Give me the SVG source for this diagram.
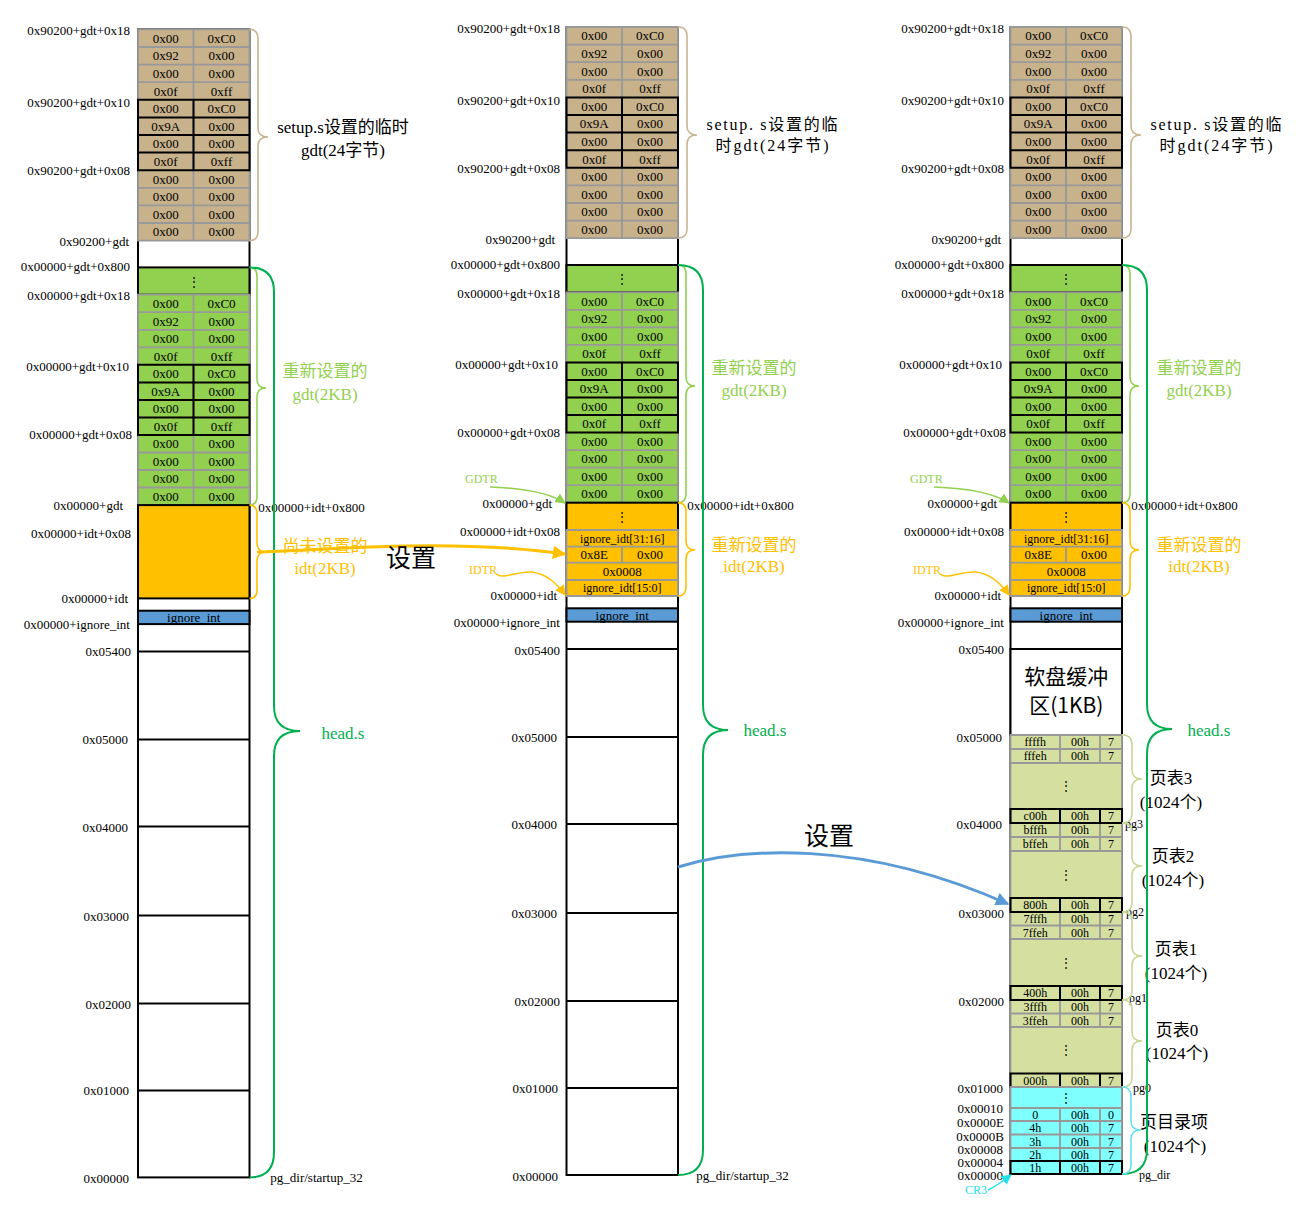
<svg xmlns="http://www.w3.org/2000/svg" width="1307" height="1221" viewBox="0 0 1307 1221">
<defs>
<style>
text{font-family:"Liberation Serif","Noto Sans CJK SC",serif;fill:#000}
.l{font-size:13px;text-anchor:end}
.c{font-size:13px;text-anchor:middle}
.s{font-size:12px;text-anchor:middle}
.sl{font-size:12px}
.b{font-size:17px;text-anchor:middle}
.b16{font-size:16px}
.ig{font-size:13px}
.cj{font-family:"Noto Sans CJK SC",sans-serif}
.col{fill:#fff;stroke:#000;stroke-width:2}
.tan{fill:#c8b28c}
.grn{fill:#92d050}
.org{fill:#ffc000}
.blu{fill:#5b9bd5;stroke:#000;stroke-width:2}
.ptf{fill:#d5e0a0}
.cyf{fill:#80ffff}
.grid{fill:none;stroke:#999;stroke-width:1.8}
.thk{fill:none;stroke:#000;stroke-width:2}
.brT{fill:none;stroke:#c9b48f;stroke-width:1.6}
.brG{fill:none;stroke:#92d050;stroke-width:1.6}
.brO{fill:none;stroke:#ffc000;stroke-width:1.6}
.brH{fill:none;stroke:#00b050;stroke-width:2}
.brP{fill:none;stroke:#c6d894;stroke-width:1.6}
.brC{fill:none;stroke:#66e0f0;stroke-width:1.6}
.tg{fill:#92d050}
.to{fill:#ffc000}
.th{fill:#00b050}
.tc{fill:#22e0e8}
</style>
<marker id="mO" viewBox="0 0 10 10" refX="9" refY="5" markerWidth="4.5" markerHeight="4.5" orient="auto"><path d="M0,0L10,5L0,10z" fill="#ffc000"/></marker>
<marker id="mB" viewBox="0 0 10 10" refX="9" refY="5" markerWidth="4.5" markerHeight="4.5" orient="auto"><path d="M0,0L10,5L0,10z" fill="#5b9bd5"/></marker>
<marker id="mG" viewBox="0 0 10 10" refX="9" refY="5" markerWidth="7" markerHeight="7" orient="auto"><path d="M0,0L10,5L0,10z" fill="#92d050"/></marker>
<marker id="mY" viewBox="0 0 10 10" refX="9" refY="5" markerWidth="7" markerHeight="7" orient="auto"><path d="M0,0L10,5L0,10z" fill="#ffc000"/></marker>
<marker id="mC" viewBox="0 0 10 10" refX="9" refY="5" markerWidth="7" markerHeight="7" orient="auto"><path d="M0,0L10,5L0,10z" fill="#22e0e8"/></marker>
</defs>
<rect width="1307" height="1221" fill="#fff"/>

<!-- ================= LEFT COLUMN ================= -->
<g id="colL">
<rect class="col" x="138" y="29.4" width="111.5" height="1148"/>
<g id="L-tempgdt">
<rect class="tan" x="138" y="29.4" width="111.5" height="211.2"/>
<path class="grid" d="M138,29.4H249.5V240.6H138Z M138,47H249.5 M138,64.6H249.5 M138,82.2H249.5 M138,187.8H249.5 M138,205.4H249.5 M138,223H249.5 M193.5,29.4V240.6"/>
<path class="thk" d="M138,99.8H249.5V170.2H138Z M138,117.4H249.5 M138,135H249.5 M138,152.6H249.5 M193.5,99.8V170.2"/>
<text class="c" y="42.7"><tspan x="165.75">0x00</tspan><tspan x="221.5">0xC0</tspan></text>
<text class="c" y="60.3"><tspan x="165.75">0x92</tspan><tspan x="221.5">0x00</tspan></text>
<text class="c" y="77.9"><tspan x="165.75">0x00</tspan><tspan x="221.5">0x00</tspan></text>
<text class="c" y="95.5"><tspan x="165.75">0x0f</tspan><tspan x="221.5">0xff</tspan></text>
<text class="c" y="113.1"><tspan x="165.75">0x00</tspan><tspan x="221.5">0xC0</tspan></text>
<text class="c" y="130.7"><tspan x="165.75">0x9A</tspan><tspan x="221.5">0x00</tspan></text>
<text class="c" y="148.3"><tspan x="165.75">0x00</tspan><tspan x="221.5">0x00</tspan></text>
<text class="c" y="165.9"><tspan x="165.75">0x0f</tspan><tspan x="221.5">0xff</tspan></text>
<text class="c" y="183.5"><tspan x="165.75">0x00</tspan><tspan x="221.5">0x00</tspan></text>
<text class="c" y="201.1"><tspan x="165.75">0x00</tspan><tspan x="221.5">0x00</tspan></text>
<text class="c" y="218.7"><tspan x="165.75">0x00</tspan><tspan x="221.5">0x00</tspan></text>
<text class="c" y="236.3"><tspan x="165.75">0x00</tspan><tspan x="221.5">0x00</tspan></text>
</g>
<g id="L-gdt">
<rect class="grn" x="138" y="267.4" width="111.5" height="27.3" stroke="#000" stroke-width="2"/>
<text class="s" x="193.75" y="285.5">⋮</text>
<rect class="grn" x="138" y="294.7" width="111.5" height="210.4"/>
<path class="grid" d="M138,294.7H249.5V505.1H138Z M138,312.2H249.5 M138,329.8H249.5 M138,347.3H249.5 M138,452.5H249.5 M138,470H249.5 M138,487.5H249.5 M193.5,294.7V505.1"/>
<path class="thk" d="M138,364.8H249.5V434.9H138Z M138,382.4H249.5 M138,399.9H249.5 M138,417.4H249.5 M193.5,364.8V434.9"/>
<text class="c" y="308"><tspan x="165.75">0x00</tspan><tspan x="221.5">0xC0</tspan></text>
<text class="c" y="325.5"><tspan x="165.75">0x92</tspan><tspan x="221.5">0x00</tspan></text>
<text class="c" y="343.1"><tspan x="165.75">0x00</tspan><tspan x="221.5">0x00</tspan></text>
<text class="c" y="360.6"><tspan x="165.75">0x0f</tspan><tspan x="221.5">0xff</tspan></text>
<text class="c" y="378.1"><tspan x="165.75">0x00</tspan><tspan x="221.5">0xC0</tspan></text>
<text class="c" y="395.7"><tspan x="165.75">0x9A</tspan><tspan x="221.5">0x00</tspan></text>
<text class="c" y="413.2"><tspan x="165.75">0x00</tspan><tspan x="221.5">0x00</tspan></text>
<text class="c" y="430.7"><tspan x="165.75">0x0f</tspan><tspan x="221.5">0xff</tspan></text>
<text class="c" y="448.2"><tspan x="165.75">0x00</tspan><tspan x="221.5">0x00</tspan></text>
<text class="c" y="465.8"><tspan x="165.75">0x00</tspan><tspan x="221.5">0x00</tspan></text>
<text class="c" y="483.3"><tspan x="165.75">0x00</tspan><tspan x="221.5">0x00</tspan></text>
<text class="c" y="500.8"><tspan x="165.75">0x00</tspan><tspan x="221.5">0x00</tspan></text>
</g>
<g id="L-idt"><rect class="org" x="138" y="505.1" width="111.5" height="93.3" stroke="#000" stroke-width="2"/></g>
<g id="L-ignore"><rect class="blu" x="138" y="610.7" width="111.5" height="13.4"/><text class="s ig" x="193.75" y="621.8">ignore_int</text></g>
<path class="thk" d="M138,651.4H249.5 M138,739.4H249.5 M138,826.4H249.5 M138,915.4H249.5 M138,1003.4H249.5 M138,1090.4H249.5"/>
</g>
<g id="labelsL">
<text class="l" x="130" y="34.5">0x90200+gdt+0x18</text>
<text class="l" x="130" y="106.5">0x90200+gdt+0x10</text>
<text class="l" x="130" y="174.5">0x90200+gdt+0x08</text>
<text class="l" x="129" y="245.5">0x90200+gdt</text>
<text class="l" x="130" y="270.5">0x00000+gdt+0x800</text>
<text class="l" x="130" y="299.5">0x00000+gdt+0x18</text>
<text class="l" x="129" y="370.5">0x00000+gdt+0x10</text>
<text class="l" x="132" y="438.5">0x00000+gdt+0x08</text>
<text class="l" x="123" y="509.5">0x00000+gdt</text>
<text class="l" x="131" y="537.5">0x00000+idt+0x08</text>
<text class="l" x="128" y="602.5">0x00000+idt</text>
<text class="l" x="130" y="628.5">0x00000+ignore_int</text>
<text class="l" x="131" y="655.5">0x05400</text>
<text class="l" x="128" y="743.5">0x05000</text>
<text class="l" x="128" y="831.5">0x04000</text>
<text class="l" x="129" y="920.5">0x03000</text>
<text class="l" x="131" y="1008.5">0x02000</text>
<text class="l" x="129" y="1094.5">0x01000</text>
<text class="l" x="129" y="1182.5">0x00000</text>
<text class="c" x="311.5" y="512">0x00000+idt+0x800</text>
<text class="c" x="316.5" y="1182">pg_dir/startup_32</text>
<text class="b" x="343" y="133">setup.s设置的临时</text>
<text class="b" x="343" y="156">gdt(24字节)</text>
<text class="b tg" x="325" y="377">重新设置的</text>
<text class="b tg" x="325" y="400">gdt(2KB)</text>
<text class="b to" x="325" y="552">尚未设置的</text>
<text class="b to" x="325" y="574">idt(2KB)</text>
<text class="b th" x="343" y="739">head.s</text>
</g>

<!-- ================= MIDDLE COLUMN ================= -->
<g id="colM">
<rect class="col" x="566.5" y="27" width="111.5" height="1148"/>
<g id="M-tempgdt">
<rect class="tan" x="566.5" y="27" width="111.5" height="211.2"/>
<path class="grid" d="M566.5,27H678V238.2H566.5Z M566.5,44.6H678 M566.5,62.2H678 M566.5,79.8H678 M566.5,185.4H678 M566.5,203H678 M566.5,220.6H678 M622,27V238.2"/>
<path class="thk" d="M566.5,97.4H678V167.8H566.5Z M566.5,115H678 M566.5,132.6H678 M566.5,150.2H678 M622,97.4V167.8"/>
<text class="c" y="40.3"><tspan x="594.25">0x00</tspan><tspan x="650">0xC0</tspan></text>
<text class="c" y="57.9"><tspan x="594.25">0x92</tspan><tspan x="650">0x00</tspan></text>
<text class="c" y="75.5"><tspan x="594.25">0x00</tspan><tspan x="650">0x00</tspan></text>
<text class="c" y="93.1"><tspan x="594.25">0x0f</tspan><tspan x="650">0xff</tspan></text>
<text class="c" y="110.7"><tspan x="594.25">0x00</tspan><tspan x="650">0xC0</tspan></text>
<text class="c" y="128.3"><tspan x="594.25">0x9A</tspan><tspan x="650">0x00</tspan></text>
<text class="c" y="145.9"><tspan x="594.25">0x00</tspan><tspan x="650">0x00</tspan></text>
<text class="c" y="163.5"><tspan x="594.25">0x0f</tspan><tspan x="650">0xff</tspan></text>
<text class="c" y="181.1"><tspan x="594.25">0x00</tspan><tspan x="650">0x00</tspan></text>
<text class="c" y="198.7"><tspan x="594.25">0x00</tspan><tspan x="650">0x00</tspan></text>
<text class="c" y="216.3"><tspan x="594.25">0x00</tspan><tspan x="650">0x00</tspan></text>
<text class="c" y="233.9"><tspan x="594.25">0x00</tspan><tspan x="650">0x00</tspan></text>
</g>
<g id="M-gdt">
<rect class="grn" x="566.5" y="265" width="111.5" height="27.3" stroke="#000" stroke-width="2"/>
<text class="s" x="622.25" y="283">⋮</text>
<rect class="grn" x="566.5" y="292.3" width="111.5" height="210.4"/>
<path class="grid" d="M566.5,292.3H678V502.7H566.5Z M566.5,309.8H678 M566.5,327.4H678 M566.5,344.9H678 M566.5,450.1H678 M566.5,467.6H678 M566.5,485.1H678 M622,292.3V502.7"/>
<path class="thk" d="M566.5,362.4H678V432.5H566.5Z M566.5,380H678 M566.5,397.5H678 M566.5,415H678 M622,362.4V432.5"/>
<text class="c" y="305.6"><tspan x="594.25">0x00</tspan><tspan x="650">0xC0</tspan></text>
<text class="c" y="323.1"><tspan x="594.25">0x92</tspan><tspan x="650">0x00</tspan></text>
<text class="c" y="340.7"><tspan x="594.25">0x00</tspan><tspan x="650">0x00</tspan></text>
<text class="c" y="358.2"><tspan x="594.25">0x0f</tspan><tspan x="650">0xff</tspan></text>
<text class="c" y="375.7"><tspan x="594.25">0x00</tspan><tspan x="650">0xC0</tspan></text>
<text class="c" y="393.3"><tspan x="594.25">0x9A</tspan><tspan x="650">0x00</tspan></text>
<text class="c" y="410.8"><tspan x="594.25">0x00</tspan><tspan x="650">0x00</tspan></text>
<text class="c" y="428.3"><tspan x="594.25">0x0f</tspan><tspan x="650">0xff</tspan></text>
<text class="c" y="445.8"><tspan x="594.25">0x00</tspan><tspan x="650">0x00</tspan></text>
<text class="c" y="463.4"><tspan x="594.25">0x00</tspan><tspan x="650">0x00</tspan></text>
<text class="c" y="480.9"><tspan x="594.25">0x00</tspan><tspan x="650">0x00</tspan></text>
<text class="c" y="498.4"><tspan x="594.25">0x00</tspan><tspan x="650">0x00</tspan></text>
</g>
<g id="M-idt">
<rect class="org" x="566.5" y="502.7" width="111.5" height="27.3" stroke="#000" stroke-width="2"/>
<text class="s" x="622.25" y="520.5">⋮</text>
<rect class="org" x="566.5" y="530" width="111.5" height="66"/>
<path class="grid" d="M566.5,530H678V596H566.5Z M566.5,546.7H678 M566.5,562.7H678 M566.5,580H678 M622,546.7V562.7"/>
<text class="s" x="622.25" y="542.5">ignore_idt[31:16]</text>
<text class="c" y="559"><tspan x="594.25">0x8E</tspan><tspan x="650">0x00</tspan></text>
<text class="c" x="622.25" y="575.5">0x0008</text>
<text class="s" x="622.25" y="592.2">ignore_idt[15:0]</text>
</g>
<g id="M-ignore"><rect class="blu" x="566.5" y="608.3" width="111.5" height="13.4"/><text class="s ig" x="622.25" y="619.5">ignore_int</text></g>
<path class="thk" d="M566.5,649H678 M566.5,737H678 M566.5,824H678 M566.5,913H678 M566.5,1001H678 M566.5,1088H678"/>
</g>
<g id="labelsM">
<text class="l" x="560" y="32.5">0x90200+gdt+0x18</text>
<text class="l" x="560" y="104.5">0x90200+gdt+0x10</text>
<text class="l" x="560" y="172.5">0x90200+gdt+0x08</text>
<text class="l" x="555" y="243.5">0x90200+gdt</text>
<text class="l" x="560" y="268.5">0x00000+gdt+0x800</text>
<text class="l" x="560" y="297.5">0x00000+gdt+0x18</text>
<text class="l" x="558" y="368.5">0x00000+gdt+0x10</text>
<text class="l" x="560" y="436.5">0x00000+gdt+0x08</text>
<text class="sl tg" x="465" y="482.5">GDTR</text>
<text class="l" x="552" y="507.5">0x00000+gdt</text>
<text class="l" x="560" y="535.5">0x00000+idt+0x08</text>
<text class="sl to" x="469" y="573.5">IDTR</text>
<text class="l" x="557" y="599.5">0x00000+idt</text>
<text class="l" x="560" y="626.5">0x00000+ignore_int</text>
<text class="l" x="560" y="654.5">0x05400</text>
<text class="l" x="557" y="741.5">0x05000</text>
<text class="l" x="557" y="828.5">0x04000</text>
<text class="l" x="557" y="917.5">0x03000</text>
<text class="l" x="560" y="1005.5">0x02000</text>
<text class="l" x="558" y="1092.5">0x01000</text>
<text class="l" x="558" y="1180.5">0x00000</text>
<text class="c" x="740.5" y="509.5">0x00000+idt+0x800</text>
<text class="c" x="742.5" y="1180">pg_dir/startup_32</text>
<text class="b b16" x="772" y="130" textLength="131" lengthAdjust="spacing">setup. s设置的临</text>
<text class="b b16" x="772" y="151" textLength="113" lengthAdjust="spacing">时gdt(24字节)</text>
<text class="b tg" x="754" y="374">重新设置的</text>
<text class="b tg" x="754" y="396">gdt(2KB)</text>
<text class="b to" x="754" y="551">重新设置的</text>
<text class="b to" x="754" y="572">idt(2KB)</text>
<text class="b th" x="765" y="736">head.s</text>
</g>

<!-- ================= RIGHT COLUMN ================= -->
<g id="colR">
<rect class="col" x="1010.5" y="27" width="111.5" height="1147"/>
<g id="R-tempgdt">
<rect class="tan" x="1010.5" y="27" width="111.5" height="211.2"/>
<path class="grid" d="M1010.5,27H1122V238.2H1010.5Z M1010.5,44.6H1122 M1010.5,62.2H1122 M1010.5,79.8H1122 M1010.5,185.4H1122 M1010.5,203H1122 M1010.5,220.6H1122 M1066,27V238.2"/>
<path class="thk" d="M1010.5,97.4H1122V167.8H1010.5Z M1010.5,115H1122 M1010.5,132.6H1122 M1010.5,150.2H1122 M1066,97.4V167.8"/>
<text class="c" y="40.3"><tspan x="1038.25">0x00</tspan><tspan x="1094">0xC0</tspan></text>
<text class="c" y="57.9"><tspan x="1038.25">0x92</tspan><tspan x="1094">0x00</tspan></text>
<text class="c" y="75.5"><tspan x="1038.25">0x00</tspan><tspan x="1094">0x00</tspan></text>
<text class="c" y="93.1"><tspan x="1038.25">0x0f</tspan><tspan x="1094">0xff</tspan></text>
<text class="c" y="110.7"><tspan x="1038.25">0x00</tspan><tspan x="1094">0xC0</tspan></text>
<text class="c" y="128.3"><tspan x="1038.25">0x9A</tspan><tspan x="1094">0x00</tspan></text>
<text class="c" y="145.9"><tspan x="1038.25">0x00</tspan><tspan x="1094">0x00</tspan></text>
<text class="c" y="163.5"><tspan x="1038.25">0x0f</tspan><tspan x="1094">0xff</tspan></text>
<text class="c" y="181.1"><tspan x="1038.25">0x00</tspan><tspan x="1094">0x00</tspan></text>
<text class="c" y="198.7"><tspan x="1038.25">0x00</tspan><tspan x="1094">0x00</tspan></text>
<text class="c" y="216.3"><tspan x="1038.25">0x00</tspan><tspan x="1094">0x00</tspan></text>
<text class="c" y="233.9"><tspan x="1038.25">0x00</tspan><tspan x="1094">0x00</tspan></text>
</g>
<g id="R-gdt">
<rect class="grn" x="1010.5" y="265" width="111.5" height="27.3" stroke="#000" stroke-width="2"/>
<text class="s" x="1066.25" y="283">⋮</text>
<rect class="grn" x="1010.5" y="292.3" width="111.5" height="210.4"/>
<path class="grid" d="M1010.5,292.3H1122V502.7H1010.5Z M1010.5,309.8H1122 M1010.5,327.4H1122 M1010.5,344.9H1122 M1010.5,450.1H1122 M1010.5,467.6H1122 M1010.5,485.1H1122 M1066,292.3V502.7"/>
<path class="thk" d="M1010.5,362.4H1122V432.5H1010.5Z M1010.5,380H1122 M1010.5,397.5H1122 M1010.5,415H1122 M1066,362.4V432.5"/>
<text class="c" y="305.6"><tspan x="1038.25">0x00</tspan><tspan x="1094">0xC0</tspan></text>
<text class="c" y="323.1"><tspan x="1038.25">0x92</tspan><tspan x="1094">0x00</tspan></text>
<text class="c" y="340.7"><tspan x="1038.25">0x00</tspan><tspan x="1094">0x00</tspan></text>
<text class="c" y="358.2"><tspan x="1038.25">0x0f</tspan><tspan x="1094">0xff</tspan></text>
<text class="c" y="375.7"><tspan x="1038.25">0x00</tspan><tspan x="1094">0xC0</tspan></text>
<text class="c" y="393.3"><tspan x="1038.25">0x9A</tspan><tspan x="1094">0x00</tspan></text>
<text class="c" y="410.8"><tspan x="1038.25">0x00</tspan><tspan x="1094">0x00</tspan></text>
<text class="c" y="428.3"><tspan x="1038.25">0x0f</tspan><tspan x="1094">0xff</tspan></text>
<text class="c" y="445.8"><tspan x="1038.25">0x00</tspan><tspan x="1094">0x00</tspan></text>
<text class="c" y="463.4"><tspan x="1038.25">0x00</tspan><tspan x="1094">0x00</tspan></text>
<text class="c" y="480.9"><tspan x="1038.25">0x00</tspan><tspan x="1094">0x00</tspan></text>
<text class="c" y="498.4"><tspan x="1038.25">0x00</tspan><tspan x="1094">0x00</tspan></text>
</g>
<g id="R-idt">
<rect class="org" x="1010.5" y="502.7" width="111.5" height="27.3" stroke="#000" stroke-width="2"/>
<text class="s" x="1066.25" y="520.5">⋮</text>
<rect class="org" x="1010.5" y="530" width="111.5" height="66"/>
<path class="grid" d="M1010.5,530H1122V596H1010.5Z M1010.5,546.7H1122 M1010.5,562.7H1122 M1010.5,580H1122 M1066,546.7V562.7"/>
<text class="s" x="1066.25" y="542.5">ignore_idt[31:16]</text>
<text class="c" y="559"><tspan x="1038.25">0x8E</tspan><tspan x="1094">0x00</tspan></text>
<text class="c" x="1066.25" y="575.5">0x0008</text>
<text class="s" x="1066.25" y="592.2">ignore_idt[15:0]</text>
</g>
<g id="R-ignore"><rect class="blu" x="1010.5" y="608.3" width="111.5" height="13.4"/><text class="s ig" x="1066.25" y="619.5">ignore_int</text></g>
<g id="R-floppy">
<rect class="col" x="1010.5" y="649" width="111.5" height="86"/>
<text class="cj" x="1066.25" y="684" font-size="21" text-anchor="middle">软盘缓冲</text>
<text class="cj" x="1066.25" y="713" font-size="21" text-anchor="middle">区(1KB)</text>
</g>
<g id="R-pagetables">
<rect class="ptf" x="1010.5" y="735" width="111.5" height="352"/>
<path class="grid" d="M1010.5,735H1122V1087H1010.5Z M1010.5,749H1122 M1010.5,763H1122 M1010.5,809H1122 M1010.5,837H1122 M1010.5,851H1122 M1010.5,925.5H1122 M1010.5,939H1122 M1010.5,1013.5H1122 M1010.5,1027H1122 M1060,735V763 M1100,735V763 M1060,823V851 M1100,823V851 M1060,912V939 M1100,912V939 M1060,1000V1027 M1100,1000V1027"/>
<path class="thk" d="M1010.5,809H1122V823H1010.5Z M1060,809V823 M1100,809V823 M1010.5,898H1122V912H1010.5Z M1060,898V912 M1100,898V912 M1010.5,986H1122V1000H1010.5Z M1060,986V1000 M1100,986V1000 M1010.5,1073.5H1122V1087H1010.5Z M1060,1073.5V1087 M1100,1073.5V1087"/>
<text class="s" y="746.3"><tspan x="1035.25">ffffh</tspan><tspan x="1080">00h</tspan><tspan x="1111">7</tspan></text>
<text class="s" y="760.3"><tspan x="1035.25">fffeh</tspan><tspan x="1080">00h</tspan><tspan x="1111">7</tspan></text>
<text class="s" x="1066.25" y="790">⋮</text>
<text class="s" y="820.3"><tspan x="1035.25">c00h</tspan><tspan x="1080">00h</tspan><tspan x="1111">7</tspan></text>
<text class="s" y="834.3"><tspan x="1035.25">bfffh</tspan><tspan x="1080">00h</tspan><tspan x="1111">7</tspan></text>
<text class="s" y="848.3"><tspan x="1035.25">bffeh</tspan><tspan x="1080">00h</tspan><tspan x="1111">7</tspan></text>
<text class="s" x="1066.25" y="878.5">⋮</text>
<text class="s" y="909.3"><tspan x="1035.25">800h</tspan><tspan x="1080">00h</tspan><tspan x="1111">7</tspan></text>
<text class="s" y="923"><tspan x="1035.25">7fffh</tspan><tspan x="1080">00h</tspan><tspan x="1111">7</tspan></text>
<text class="s" y="936.5"><tspan x="1035.25">7ffeh</tspan><tspan x="1080">00h</tspan><tspan x="1111">7</tspan></text>
<text class="s" x="1066.25" y="966.5">⋮</text>
<text class="s" y="997.3"><tspan x="1035.25">400h</tspan><tspan x="1080">00h</tspan><tspan x="1111">7</tspan></text>
<text class="s" y="1011"><tspan x="1035.25">3fffh</tspan><tspan x="1080">00h</tspan><tspan x="1111">7</tspan></text>
<text class="s" y="1024.5"><tspan x="1035.25">3ffeh</tspan><tspan x="1080">00h</tspan><tspan x="1111">7</tspan></text>
<text class="s" x="1066.25" y="1054.3">⋮</text>
<text class="s" y="1084.5"><tspan x="1035.25">000h</tspan><tspan x="1080">00h</tspan><tspan x="1111">7</tspan></text>
</g>
<g id="R-pgdir">
<rect class="cyf" x="1010.5" y="1087" width="111.5" height="87"/>
<path class="grid" d="M1010.5,1087H1122V1174H1010.5Z M1010.5,1108H1122 M1010.5,1121H1122 M1010.5,1134.5H1122 M1010.5,1148H1122 M1060,1108V1161 M1100,1108V1161"/>
<path class="thk" d="M1010.5,1161H1122V1174H1010.5Z M1060,1161V1174 M1100,1161V1174"/>
<text class="s" x="1066.25" y="1101.5">⋮</text>
<text class="s" y="1118.8"><tspan x="1035.25">0</tspan><tspan x="1080">00h</tspan><tspan x="1111">0</tspan></text>
<text class="s" y="1132"><tspan x="1035.25">4h</tspan><tspan x="1080">00h</tspan><tspan x="1111">7</tspan></text>
<text class="s" y="1145.5"><tspan x="1035.25">3h</tspan><tspan x="1080">00h</tspan><tspan x="1111">7</tspan></text>
<text class="s" y="1158.8"><tspan x="1035.25">2h</tspan><tspan x="1080">00h</tspan><tspan x="1111">7</tspan></text>
<text class="s" y="1171.8"><tspan x="1035.25">1h</tspan><tspan x="1080">00h</tspan><tspan x="1111">7</tspan></text>
</g>
<path class="thk" d="M1010.5,649H1122"/>
</g>
<g id="labelsR">
<text class="l" x="1004" y="32.5">0x90200+gdt+0x18</text>
<text class="l" x="1004" y="104.5">0x90200+gdt+0x10</text>
<text class="l" x="1004" y="172.5">0x90200+gdt+0x08</text>
<text class="l" x="1001" y="243.5">0x90200+gdt</text>
<text class="l" x="1004" y="268.5">0x00000+gdt+0x800</text>
<text class="l" x="1004" y="297.5">0x00000+gdt+0x18</text>
<text class="l" x="1002" y="368.5">0x00000+gdt+0x10</text>
<text class="l" x="1006" y="436.5">0x00000+gdt+0x08</text>
<text class="sl tg" x="910" y="482.5">GDTR</text>
<text class="l" x="997" y="507.5">0x00000+gdt</text>
<text class="l" x="1004" y="535.5">0x00000+idt+0x08</text>
<text class="sl to" x="913" y="573.5">IDTR</text>
<text class="l" x="1001" y="599.5">0x00000+idt</text>
<text class="l" x="1004" y="626.5">0x00000+ignore_int</text>
<text class="l" x="1004" y="653.5">0x05400</text>
<text class="l" x="1002" y="741.5">0x05000</text>
<text class="l" x="1002" y="828.5">0x04000</text>
<text class="l" x="1004" y="917.5">0x03000</text>
<text class="l" x="1004" y="1005.5">0x02000</text>
<text class="l" x="1003" y="1092.5">0x01000</text>
<text class="l" x="1003" y="1112.5">0x00010</text>
<text class="l" x="1004" y="1126.5">0x0000E</text>
<text class="l" x="1004" y="1140.5">0x0000B</text>
<text class="l" x="1003" y="1153.5">0x00008</text>
<text class="l" x="1003" y="1166.5">0x00004</text>
<text class="l" x="1003" y="1179.5">0x00000</text>
<text class="sl tc" x="965" y="1194">CR3</text>
<text class="c" x="1184.5" y="509.5">0x00000+idt+0x800</text>
<text class="sl" x="1125" y="828">pg3</text>
<text class="sl" x="1126" y="916">pg2</text>
<text class="sl" x="1129" y="1002">pg1</text>
<text class="sl" x="1133" y="1092">pg0</text>
<text class="sl" x="1139" y="1179">pg_dir</text>
<text class="b b16" x="1216" y="130" textLength="131" lengthAdjust="spacing">setup. s设置的临</text>
<text class="b b16" x="1216" y="151" textLength="113" lengthAdjust="spacing">时gdt(24字节)</text>
<text class="b tg" x="1199" y="374">重新设置的</text>
<text class="b tg" x="1199" y="396">gdt(2KB)</text>
<text class="b to" x="1199" y="551">重新设置的</text>
<text class="b to" x="1199" y="572">idt(2KB)</text>
<text class="b th" x="1209" y="736">head.s</text>
<text class="b" x="1171" y="784">页表3</text>
<text class="b" x="1171" y="808">(1024个)</text>
<text class="b" x="1173" y="862">页表2</text>
<text class="b" x="1173" y="886">(1024个)</text>
<text class="b" x="1176" y="955">页表1</text>
<text class="b" x="1176" y="979">(1024个)</text>
<text class="b" x="1177" y="1036">页表0</text>
<text class="b" x="1177" y="1059">(1024个)</text>
<text class="b" x="1174" y="1128">页目录项</text>
<text class="b" x="1175" y="1152">(1024个)</text>
</g>

<!-- ================= BRACES ================= -->
<g id="braces">
<path class="brT" d="M249.5,29.4Q258,29.4 258,38.4L258,128Q258,137 268,137Q258,137 258,146L258,231.6Q258,240.6 249.5,240.6"/>
<path class="brT" d="M678,27Q687,27 687,36L687,126Q687,135 697,135Q687,135 687,144L687,229Q687,238 678,238"/>
<path class="brT" d="M1122,27Q1131,27 1131,36L1131,126Q1131,135 1141,135Q1131,135 1131,144L1131,229Q1131,238 1122,238"/>
<path class="brG" d="M249.5,267.4Q257,267.4 257,276L257,379Q257,388 266,388Q257,388 257,397L257,496Q257,505 249.5,505"/>
<path class="brG" d="M678,265Q686,265 686,274L686,377Q686,386 695,386Q686,386 686,395L686,494Q686,502.7 678,502.7"/>
<path class="brG" d="M1122,265Q1130,265 1130,274L1130,377Q1130,386 1139,386Q1130,386 1130,395L1130,494Q1130,502.7 1122,502.7"/>
<path class="brO" d="M249.5,505.1Q257,505.1 257,514L257,543Q257,552 266,552Q257,552 257,561L257,589.4Q257,598.4 249.5,598.4"/>
<path class="brO" d="M678,502.7Q686,502.7 686,511.5L686,541Q686,550 695,550Q686,550 686,559L686,587Q686,596 678,596"/>
<path class="brO" d="M1122,502.7Q1130,502.7 1130,511.5L1130,541Q1130,550 1139,550Q1130,550 1130,559L1130,587Q1130,596 1122,596"/>
<path class="brH" d="M249.5,267.4Q274,267.4 274,292L274,706Q274,731 300,731Q274,731 274,756L274,1152Q274,1177.4 249.5,1177.4"/>
<path class="brH" d="M678,265Q703,265 703,290L703,705Q703,730 728,730Q703,730 703,755L703,1150Q703,1175 678,1175"/>
<path class="brH" d="M1122,265Q1147,265 1147,290L1147,704Q1147,729 1172,729Q1147,729 1147,754L1147,1149Q1147,1174 1122,1174"/>
<path class="brP" d="M1122,735Q1132,735 1132,744L1132,770Q1132,779 1142,779Q1132,779 1132,788L1132,814Q1132,823 1122,823"/>
<path class="brP" d="M1122,823Q1132,823 1132,832L1132,857Q1132,866 1142,866Q1132,866 1132,875L1132,903Q1132,912 1122,912"/>
<path class="brP" d="M1122,912Q1132,912 1132,921L1132,947Q1132,956 1142,956Q1132,956 1132,965L1132,991Q1132,1000 1122,1000"/>
<path class="brP" d="M1122,1000Q1132,1000 1132,1009L1132,1032Q1132,1041 1142,1041Q1132,1041 1132,1050L1132,1078Q1132,1087 1122,1087"/>
<path class="brC" d="M1122,1087Q1131,1087 1131,1096L1131,1121Q1131,1130 1141,1130Q1131,1130 1131,1139L1131,1165Q1131,1174 1122,1174"/>
</g>

<!-- ================= CONNECTORS ================= -->
<g id="connectors" fill="none">
<path d="M257,552 C330,550 450,538 565,554" stroke="#ffc000" stroke-width="3" marker-end="url(#mO)"/>
<path d="M678,867 C740,848 860,838 1008,904" stroke="#5b9bd5" stroke-width="3" marker-end="url(#mB)"/>
<path d="M490,487 C520,488 548,492 565,503" stroke="#92d050" stroke-width="1.5" marker-end="url(#mG)"/>
<path d="M496,574 C503,580 515,571 532,572 C548,574 558,585 565,595" stroke="#ffc000" stroke-width="1.5" marker-end="url(#mY)"/>
<path d="M934,487 C964,488 992,492 1009,503" stroke="#92d050" stroke-width="1.5" marker-end="url(#mG)"/>
<path d="M940,574 C947,580 959,571 976,572 C992,574 1002,585 1009,595" stroke="#ffc000" stroke-width="1.5" marker-end="url(#mY)"/>
<path d="M988,1190 C995,1187 1003,1181 1011,1175" stroke="#22e0e8" stroke-width="1.5" marker-end="url(#mC)"/>
</g>
<g id="arrowLabels">
<text class="cj" x="411" y="567" font-size="25" text-anchor="middle">设置</text>
<text class="cj" x="829" y="845" font-size="25" text-anchor="middle">设置</text>
</g>
</svg>
